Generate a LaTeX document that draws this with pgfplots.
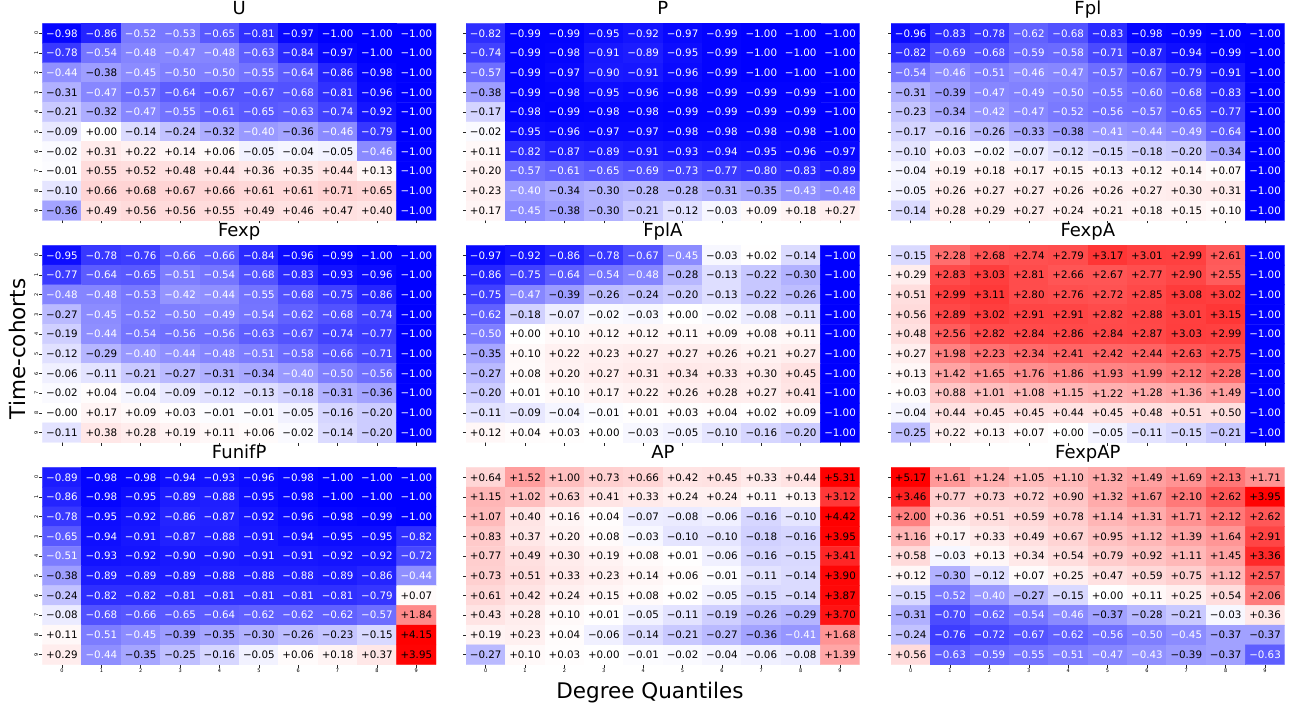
\documentclass[border=0pt]{standalone}
\usepackage{pgfplots}
\pgfplotsset{compat=1.18}
\usepackage{pgfplotstable}
\usepackage{fontspec}
\setmainfont{DejaVu Sans}

\pgfplotsset{colormap={bwr}{rgb255(0cm)=(0,0,255) rgb255(1cm)=(255,255,255) rgb255(5cm)=(255,0,0)}}

\def\cellsign#1#2\relax{\if-#1\char"2212 #2\else+#1#2\fi}
\newcommand\cellnode{\edef\tmpv{\pgfplotspointmeta}\ifdim\tmpv pt<-0.395pt\color{white}\else\color{black}\fi\expandafter\cellsign\tmpv\relax}

\pgfplotsset{hm/.style={
  scale only axis, width=393.7pt, height=197pt, anchor=south west,
  xmin=-0.5,xmax=9.5,ymin=-0.5,ymax=9.5,
  colormap name=bwr, point meta min=-1, point meta max=4,
  axis line style={draw=none},
  xtick={0,...,9}, ytick={0,...,9}, xticklabels={}, yticklabels={},
  xtick pos=left, ytick pos=left, tick align=outside, major tick length=3pt,
  tick style={black!85, line width=0.6pt},
  title style={font=\fontsize{18}{21}\selectfont, at={(0.5,1)}, anchor=base, yshift=3pt, inner sep=0pt},
  xticklabel style={font=\fontsize{5}{6}\selectfont, inner sep=1pt},
  yticklabel style={font=\fontsize{5}{6}\selectfont, rotate=90, anchor=south, inner sep=1pt},
}}

\newcommand\panel[5]{%
\begin{axis}[hm, at={(#1pt,#2pt)}, title={#3}, #5]
\addplot[matrix plot*, mesh/cols=10, point meta=explicit] table[x=x, y=y, meta=v] {#4};
\addplot[draw=none, mark=none, point meta=explicit symbolic, nodes near coords={\cellnode}, every node near coord/.append style={anchor=center, inner sep=0pt, font=\fontsize{10.3}{12}\selectfont}] table[x=x, y=y, meta=v] {#4};
\end{axis}}

\pgfplotstableread[row sep=\\]{x y v\\
0 9 -0.98\\1 9 -0.86\\2 9 -0.52\\3 9 -0.53\\4 9 -0.65\\5 9 -0.81\\6 9 -0.97\\7 9 -1.00\\8 9 -1.00\\9 9 -1.00\\
0 8 -0.78\\1 8 -0.54\\2 8 -0.48\\3 8 -0.47\\4 8 -0.48\\5 8 -0.63\\6 8 -0.84\\7 8 -0.97\\8 8 -1.00\\9 8 -1.00\\
0 7 -0.44\\1 7 -0.38\\2 7 -0.45\\3 7 -0.50\\4 7 -0.50\\5 7 -0.55\\6 7 -0.64\\7 7 -0.86\\8 7 -0.98\\9 7 -1.00\\
0 6 -0.31\\1 6 -0.47\\2 6 -0.57\\3 6 -0.64\\4 6 -0.67\\5 6 -0.67\\6 6 -0.68\\7 6 -0.81\\8 6 -0.96\\9 6 -1.00\\
0 5 -0.21\\1 5 -0.32\\2 5 -0.47\\3 5 -0.55\\4 5 -0.61\\5 5 -0.65\\6 5 -0.63\\7 5 -0.74\\8 5 -0.92\\9 5 -1.00\\
0 4 -0.09\\1 4 0.00\\2 4 -0.14\\3 4 -0.24\\4 4 -0.32\\5 4 -0.40\\6 4 -0.36\\7 4 -0.46\\8 4 -0.79\\9 4 -1.00\\
0 3 -0.02\\1 3 0.31\\2 3 0.22\\3 3 0.14\\4 3 0.06\\5 3 -0.05\\6 3 -0.04\\7 3 -0.05\\8 3 -0.46\\9 3 -1.00\\
0 2 -0.01\\1 2 0.55\\2 2 0.52\\3 2 0.48\\4 2 0.44\\5 2 0.36\\6 2 0.35\\7 2 0.44\\8 2 0.13\\9 2 -1.00\\
0 1 -0.10\\1 1 0.66\\2 1 0.68\\3 1 0.67\\4 1 0.66\\5 1 0.61\\6 1 0.61\\7 1 0.71\\8 1 0.65\\9 1 -1.00\\
0 0 -0.36\\1 0 0.49\\2 0 0.56\\3 0 0.56\\4 0 0.55\\5 0 0.49\\6 0 0.46\\7 0 0.47\\8 0 0.40\\9 0 -1.00\\
}\tabU

\pgfplotstableread[row sep=\\]{x y v\\
0 9 -0.82\\1 9 -0.99\\2 9 -0.99\\3 9 -0.95\\4 9 -0.92\\5 9 -0.97\\6 9 -0.99\\7 9 -1.00\\8 9 -1.00\\9 9 -1.00\\
0 8 -0.74\\1 8 -0.99\\2 8 -0.98\\3 8 -0.91\\4 8 -0.89\\5 8 -0.95\\6 8 -0.99\\7 8 -1.00\\8 8 -1.00\\9 8 -1.00\\
0 7 -0.57\\1 7 -0.99\\2 7 -0.97\\3 7 -0.90\\4 7 -0.91\\5 7 -0.96\\6 7 -0.99\\7 7 -1.00\\8 7 -1.00\\9 7 -1.00\\
0 6 -0.38\\1 6 -0.99\\2 6 -0.98\\3 6 -0.95\\4 6 -0.96\\5 6 -0.98\\6 6 -0.99\\7 6 -0.99\\8 6 -0.99\\9 6 -1.00\\
0 5 -0.17\\1 5 -0.98\\2 5 -0.99\\3 5 -0.98\\4 5 -0.98\\5 5 -0.99\\6 5 -0.99\\7 5 -0.99\\8 5 -0.99\\9 5 -1.00\\
0 4 -0.02\\1 4 -0.95\\2 4 -0.96\\3 4 -0.97\\4 4 -0.97\\5 4 -0.98\\6 4 -0.98\\7 4 -0.98\\8 4 -0.98\\9 4 -1.00\\
0 3 0.11\\1 3 -0.82\\2 3 -0.87\\3 3 -0.89\\4 3 -0.91\\5 3 -0.93\\6 3 -0.94\\7 3 -0.95\\8 3 -0.96\\9 3 -0.97\\
0 2 0.20\\1 2 -0.57\\2 2 -0.61\\3 2 -0.65\\4 2 -0.69\\5 2 -0.73\\6 2 -0.77\\7 2 -0.80\\8 2 -0.83\\9 2 -0.89\\
0 1 0.23\\1 1 -0.40\\2 1 -0.34\\3 1 -0.30\\4 1 -0.28\\5 1 -0.28\\6 1 -0.31\\7 1 -0.35\\8 1 -0.43\\9 1 -0.48\\
0 0 0.17\\1 0 -0.45\\2 0 -0.38\\3 0 -0.30\\4 0 -0.21\\5 0 -0.12\\6 0 -0.03\\7 0 0.09\\8 0 0.18\\9 0 0.27\\
}\tabP

\pgfplotstableread[row sep=\\]{x y v\\
0 9 -0.96\\1 9 -0.83\\2 9 -0.78\\3 9 -0.62\\4 9 -0.68\\5 9 -0.83\\6 9 -0.98\\7 9 -0.99\\8 9 -1.00\\9 9 -1.00\\
0 8 -0.82\\1 8 -0.69\\2 8 -0.68\\3 8 -0.59\\4 8 -0.58\\5 8 -0.71\\6 8 -0.87\\7 8 -0.94\\8 8 -0.99\\9 8 -1.00\\
0 7 -0.54\\1 7 -0.46\\2 7 -0.51\\3 7 -0.46\\4 7 -0.47\\5 7 -0.57\\6 7 -0.67\\7 7 -0.79\\8 7 -0.91\\9 7 -1.00\\
0 6 -0.31\\1 6 -0.39\\2 6 -0.47\\3 6 -0.49\\4 6 -0.50\\5 6 -0.55\\6 6 -0.60\\7 6 -0.68\\8 6 -0.83\\9 6 -1.00\\
0 5 -0.23\\1 5 -0.34\\2 5 -0.42\\3 5 -0.47\\4 5 -0.52\\5 5 -0.56\\6 5 -0.57\\7 5 -0.65\\8 5 -0.77\\9 5 -1.00\\
0 4 -0.17\\1 4 -0.16\\2 4 -0.26\\3 4 -0.33\\4 4 -0.38\\5 4 -0.41\\6 4 -0.44\\7 4 -0.49\\8 4 -0.64\\9 4 -1.00\\
0 3 -0.10\\1 3 0.03\\2 3 -0.02\\3 3 -0.07\\4 3 -0.12\\5 3 -0.15\\6 3 -0.18\\7 3 -0.20\\8 3 -0.34\\9 3 -1.00\\
0 2 -0.04\\1 2 0.19\\2 2 0.18\\3 2 0.17\\4 2 0.15\\5 2 0.13\\6 2 0.12\\7 2 0.14\\8 2 0.07\\9 2 -1.00\\
0 1 -0.05\\1 1 0.26\\2 1 0.27\\3 1 0.27\\4 1 0.26\\5 1 0.26\\6 1 0.27\\7 1 0.30\\8 1 0.31\\9 1 -1.00\\
0 0 -0.14\\1 0 0.28\\2 0 0.29\\3 0 0.27\\4 0 0.24\\5 0 0.21\\6 0 0.18\\7 0 0.15\\8 0 0.10\\9 0 -1.00\\
}\tabFpl

\pgfplotstableread[row sep=\\]{x y v\\
0 9 -0.95\\1 9 -0.78\\2 9 -0.76\\3 9 -0.66\\4 9 -0.66\\5 9 -0.84\\6 9 -0.96\\7 9 -0.99\\8 9 -1.00\\9 9 -1.00\\
0 8 -0.77\\1 8 -0.64\\2 8 -0.65\\3 8 -0.51\\4 8 -0.54\\5 8 -0.68\\6 8 -0.83\\7 8 -0.93\\8 8 -0.96\\9 8 -1.00\\
0 7 -0.48\\1 7 -0.48\\2 7 -0.53\\3 7 -0.42\\4 7 -0.44\\5 7 -0.55\\6 7 -0.68\\7 7 -0.75\\8 7 -0.86\\9 7 -1.00\\
0 6 -0.27\\1 6 -0.45\\2 6 -0.52\\3 6 -0.50\\4 6 -0.49\\5 6 -0.54\\6 6 -0.62\\7 6 -0.68\\8 6 -0.74\\9 6 -1.00\\
0 5 -0.19\\1 5 -0.44\\2 5 -0.54\\3 5 -0.56\\4 5 -0.56\\5 5 -0.63\\6 5 -0.67\\7 5 -0.74\\8 5 -0.77\\9 5 -1.00\\
0 4 -0.12\\1 4 -0.29\\2 4 -0.40\\3 4 -0.44\\4 4 -0.48\\5 4 -0.51\\6 4 -0.58\\7 4 -0.66\\8 4 -0.71\\9 4 -1.00\\
0 3 -0.06\\1 3 -0.11\\2 3 -0.21\\3 3 -0.27\\4 3 -0.31\\5 3 -0.34\\6 3 -0.40\\7 3 -0.50\\8 3 -0.56\\9 3 -1.00\\
0 2 -0.02\\1 2 0.04\\2 2 -0.04\\3 2 -0.09\\4 2 -0.12\\5 2 -0.13\\6 2 -0.18\\7 2 -0.31\\8 2 -0.36\\9 2 -1.00\\
0 1 -0.00\\1 1 0.17\\2 1 0.09\\3 1 0.03\\4 1 -0.01\\5 1 -0.01\\6 1 -0.05\\7 1 -0.16\\8 1 -0.20\\9 1 -1.00\\
0 0 -0.11\\1 0 0.38\\2 0 0.28\\3 0 0.19\\4 0 0.11\\5 0 0.06\\6 0 -0.02\\7 0 -0.14\\8 0 -0.20\\9 0 -1.00\\
}\tabFexp

\pgfplotstableread[row sep=\\]{x y v\\
0 9 -0.97\\1 9 -0.92\\2 9 -0.86\\3 9 -0.78\\4 9 -0.67\\5 9 -0.45\\6 9 -0.03\\7 9 0.02\\8 9 -0.14\\9 9 -1.00\\
0 8 -0.86\\1 8 -0.75\\2 8 -0.64\\3 8 -0.54\\4 8 -0.48\\5 8 -0.28\\6 8 -0.13\\7 8 -0.22\\8 8 -0.30\\9 8 -1.00\\
0 7 -0.75\\1 7 -0.47\\2 7 -0.39\\3 7 -0.26\\4 7 -0.24\\5 7 -0.20\\6 7 -0.13\\7 7 -0.22\\8 7 -0.26\\9 7 -1.00\\
0 6 -0.62\\1 6 -0.18\\2 6 -0.07\\3 6 -0.02\\4 6 -0.03\\5 6 0.00\\6 6 -0.02\\7 6 -0.08\\8 6 -0.11\\9 6 -1.00\\
0 5 -0.50\\1 5 0.00\\2 5 0.10\\3 5 0.12\\4 5 0.12\\5 5 0.11\\6 5 0.09\\7 5 0.08\\8 5 0.11\\9 5 -1.00\\
0 4 -0.35\\1 4 0.10\\2 4 0.22\\3 4 0.23\\4 4 0.27\\5 4 0.27\\6 4 0.26\\7 4 0.21\\8 4 0.27\\9 4 -1.00\\
0 3 -0.27\\1 3 0.08\\2 3 0.20\\3 3 0.27\\4 3 0.31\\5 3 0.34\\6 3 0.33\\7 3 0.30\\8 3 0.45\\9 3 -1.00\\
0 2 -0.20\\1 2 0.01\\2 2 0.10\\3 2 0.17\\4 2 0.22\\5 2 0.26\\6 2 0.28\\7 2 0.27\\8 2 0.41\\9 2 -1.00\\
0 1 -0.11\\1 1 -0.09\\2 1 -0.04\\3 1 -0.01\\4 1 0.01\\5 1 0.03\\6 1 0.04\\7 1 0.02\\8 1 0.09\\9 1 -1.00\\
0 0 0.12\\1 0 0.04\\2 0 0.03\\3 0 0.00\\4 0 -0.03\\5 0 -0.05\\6 0 -0.10\\7 0 -0.16\\8 0 -0.20\\9 0 -1.00\\
}\tabFplA

\pgfplotstableread[row sep=\\]{x y v\\
0 9 -0.15\\1 9 2.28\\2 9 2.68\\3 9 2.74\\4 9 2.79\\5 9 3.17\\6 9 3.01\\7 9 2.99\\8 9 2.61\\9 9 -1.00\\
0 8 0.29\\1 8 2.83\\2 8 3.03\\3 8 2.81\\4 8 2.66\\5 8 2.67\\6 8 2.77\\7 8 2.90\\8 8 2.55\\9 8 -1.00\\
0 7 0.51\\1 7 2.99\\2 7 3.11\\3 7 2.80\\4 7 2.76\\5 7 2.72\\6 7 2.85\\7 7 3.08\\8 7 3.02\\9 7 -1.00\\
0 6 0.56\\1 6 2.89\\2 6 3.02\\3 6 2.91\\4 6 2.91\\5 6 2.82\\6 6 2.88\\7 6 3.01\\8 6 3.15\\9 6 -1.00\\
0 5 0.48\\1 5 2.56\\2 5 2.82\\3 5 2.84\\4 5 2.86\\5 5 2.84\\6 5 2.87\\7 5 3.03\\8 5 2.99\\9 5 -1.00\\
0 4 0.27\\1 4 1.98\\2 4 2.23\\3 4 2.34\\4 4 2.41\\5 4 2.42\\6 4 2.44\\7 4 2.63\\8 4 2.75\\9 4 -1.00\\
0 3 0.13\\1 3 1.42\\2 3 1.65\\3 3 1.76\\4 3 1.86\\5 3 1.93\\6 3 1.99\\7 3 2.12\\8 3 2.28\\9 3 -1.00\\
0 2 0.03\\1 2 0.88\\2 2 1.01\\3 2 1.08\\4 2 1.15\\5 2 1.22\\6 2 1.28\\7 2 1.36\\8 2 1.49\\9 2 -1.00\\
0 1 -0.04\\1 1 0.44\\2 1 0.45\\3 1 0.45\\4 1 0.44\\5 1 0.45\\6 1 0.48\\7 1 0.51\\8 1 0.50\\9 1 -1.00\\
0 0 -0.25\\1 0 0.22\\2 0 0.13\\3 0 0.07\\4 0 0.00\\5 0 -0.05\\6 0 -0.11\\7 0 -0.15\\8 0 -0.21\\9 0 -1.00\\
}\tabFexpA

\pgfplotstableread[row sep=\\]{x y v\\
0 9 -0.89\\1 9 -0.98\\2 9 -0.98\\3 9 -0.94\\4 9 -0.93\\5 9 -0.96\\6 9 -0.98\\7 9 -1.00\\8 9 -1.00\\9 9 -1.00\\
0 8 -0.86\\1 8 -0.98\\2 8 -0.95\\3 8 -0.89\\4 8 -0.88\\5 8 -0.95\\6 8 -0.98\\7 8 -1.00\\8 8 -1.00\\9 8 -1.00\\
0 7 -0.78\\1 7 -0.95\\2 7 -0.92\\3 7 -0.86\\4 7 -0.87\\5 7 -0.92\\6 7 -0.96\\7 7 -0.98\\8 7 -0.99\\9 7 -1.00\\
0 6 -0.65\\1 6 -0.94\\2 6 -0.91\\3 6 -0.87\\4 6 -0.88\\5 6 -0.91\\6 6 -0.94\\7 6 -0.95\\8 6 -0.95\\9 6 -0.82\\
0 5 -0.51\\1 5 -0.93\\2 5 -0.92\\3 5 -0.90\\4 5 -0.90\\5 5 -0.91\\6 5 -0.91\\7 5 -0.92\\8 5 -0.92\\9 5 -0.72\\
0 4 -0.38\\1 4 -0.89\\2 4 -0.89\\3 4 -0.89\\4 4 -0.88\\5 4 -0.88\\6 4 -0.88\\7 4 -0.89\\8 4 -0.86\\9 4 -0.44\\
0 3 -0.24\\1 3 -0.82\\2 3 -0.82\\3 3 -0.81\\4 3 -0.81\\5 3 -0.81\\6 3 -0.81\\7 3 -0.81\\8 3 -0.79\\9 3 0.07\\
0 2 -0.08\\1 2 -0.68\\2 2 -0.66\\3 2 -0.65\\4 2 -0.64\\5 2 -0.62\\6 2 -0.62\\7 2 -0.62\\8 2 -0.57\\9 2 1.84\\
0 1 0.11\\1 1 -0.51\\2 1 -0.45\\3 1 -0.39\\4 1 -0.35\\5 1 -0.30\\6 1 -0.26\\7 1 -0.23\\8 1 -0.15\\9 1 4.15\\
0 0 0.29\\1 0 -0.44\\2 0 -0.35\\3 0 -0.25\\4 0 -0.16\\5 0 -0.05\\6 0 0.06\\7 0 0.18\\8 0 0.37\\9 0 3.95\\
}\tabFunifP

\pgfplotstableread[row sep=\\]{x y v\\
0 9 0.64\\1 9 1.52\\2 9 1.00\\3 9 0.73\\4 9 0.66\\5 9 0.42\\6 9 0.45\\7 9 0.33\\8 9 0.44\\9 9 5.31\\
0 8 1.15\\1 8 1.02\\2 8 0.63\\3 8 0.41\\4 8 0.33\\5 8 0.24\\6 8 0.24\\7 8 0.11\\8 8 0.13\\9 8 3.12\\
0 7 1.07\\1 7 0.40\\2 7 0.16\\3 7 0.04\\4 7 -0.07\\5 7 -0.08\\6 7 -0.06\\7 7 -0.16\\8 7 -0.10\\9 7 4.42\\
0 6 0.83\\1 6 0.37\\2 6 0.20\\3 6 0.08\\4 6 -0.03\\5 6 -0.10\\6 6 -0.10\\7 6 -0.18\\8 6 -0.16\\9 6 3.95\\
0 5 0.77\\1 5 0.49\\2 5 0.30\\3 5 0.19\\4 5 0.08\\5 5 0.01\\6 5 -0.06\\7 5 -0.16\\8 5 -0.15\\9 5 3.41\\
0 4 0.73\\1 4 0.51\\2 4 0.33\\3 4 0.23\\4 4 0.14\\5 4 0.06\\6 4 -0.01\\7 4 -0.11\\8 4 -0.14\\9 4 3.90\\
0 3 0.61\\1 3 0.42\\2 3 0.24\\3 3 0.15\\4 3 0.08\\5 3 0.02\\6 3 -0.05\\7 3 -0.15\\8 3 -0.14\\9 3 3.87\\
0 2 0.43\\1 2 0.28\\2 2 0.10\\3 2 0.01\\4 2 -0.05\\5 2 -0.11\\6 2 -0.19\\7 2 -0.26\\8 2 -0.29\\9 2 3.70\\
0 1 0.19\\1 1 0.23\\2 1 0.04\\3 1 -0.06\\4 1 -0.14\\5 1 -0.21\\6 1 -0.27\\7 1 -0.36\\8 1 -0.41\\9 1 1.68\\
0 0 -0.27\\1 0 0.10\\2 0 0.03\\3 0 0.00\\4 0 -0.01\\5 0 -0.02\\6 0 -0.04\\7 0 -0.06\\8 0 -0.08\\9 0 1.39\\
}\tabAP

\pgfplotstableread[row sep=\\]{x y v\\
0 9 5.17\\1 9 1.61\\2 9 1.24\\3 9 1.05\\4 9 1.10\\5 9 1.32\\6 9 1.49\\7 9 1.69\\8 9 2.13\\9 9 1.71\\
0 8 3.46\\1 8 0.77\\2 8 0.73\\3 8 0.72\\4 8 0.90\\5 8 1.32\\6 8 1.67\\7 8 2.10\\8 8 2.62\\9 8 3.95\\
0 7 2.00\\1 7 0.36\\2 7 0.51\\3 7 0.59\\4 7 0.78\\5 7 1.14\\6 7 1.31\\7 7 1.71\\8 7 2.12\\9 7 2.62\\
0 6 1.16\\1 6 0.17\\2 6 0.33\\3 6 0.49\\4 6 0.67\\5 6 0.95\\6 6 1.12\\7 6 1.39\\8 6 1.64\\9 6 2.91\\
0 5 0.58\\1 5 -0.03\\2 5 0.13\\3 5 0.34\\4 5 0.54\\5 5 0.79\\6 5 0.92\\7 5 1.11\\8 5 1.45\\9 5 3.36\\
0 4 0.12\\1 4 -0.30\\2 4 -0.12\\3 4 0.07\\4 4 0.25\\5 4 0.47\\6 4 0.59\\7 4 0.75\\8 4 1.12\\9 4 2.57\\
0 3 -0.15\\1 3 -0.52\\2 3 -0.40\\3 3 -0.27\\4 3 -0.15\\5 3 0.00\\6 3 0.11\\7 3 0.25\\8 3 0.54\\9 3 2.06\\
0 2 -0.31\\1 2 -0.70\\2 2 -0.62\\3 2 -0.54\\4 2 -0.46\\5 2 -0.37\\6 2 -0.28\\7 2 -0.21\\8 2 -0.03\\9 2 0.36\\
0 1 -0.24\\1 1 -0.76\\2 1 -0.72\\3 1 -0.67\\4 1 -0.62\\5 1 -0.56\\6 1 -0.50\\7 1 -0.45\\8 1 -0.37\\9 1 -0.37\\
0 0 0.56\\1 0 -0.63\\2 0 -0.59\\3 0 -0.55\\4 0 -0.51\\5 0 -0.47\\6 0 -0.43\\7 0 -0.39\\8 0 -0.37\\9 0 -0.63\\
}\tabFexpAP

\begin{document}
\begin{tikzpicture}
\path[use as bounding box] (0pt,0pt) rectangle (1301pt,710pt);
\panel{42.3}{489.5}{U}{\tabU}{yticklabels={9,8,7,6,5,4,3,2,1,0}}
\panel{466}{489.5}{P}{\tabP}{}
\panel{891}{489.5}{Fpl}{\tabFpl}{}
\panel{42.3}{267.5}{Fexp}{\tabFexp}{yticklabels={9,8,7,6,5,4,3,2,1,0}}
\panel{466}{267.5}{FplA}{\tabFplA}{}
\panel{891}{267.5}{FexpA}{\tabFexpA}{}
\panel{42.3}{45.5}{FunifP}{\tabFunifP}{yticklabels={9,8,7,6,5,4,3,2,1,0}, xticklabels={0,1,2,3,4,5,6,7,8,9}}
\panel{466}{45.5}{AP}{\tabAP}{xticklabels={0,1,2,3,4,5,6,7,8,9}}
\panel{891}{45.5}{FexpAP}{\tabFexpAP}{xticklabels={0,1,2,3,4,5,6,7,8,9}}
\node[rotate=90, inner sep=0pt, font=\fontsize{21.5}{25}\selectfont] at (17pt,361pt) {Time-cohorts};
\node[anchor=base, inner sep=0pt, font=\fontsize{21.5}{25}\selectfont] at (650pt,12pt) {Degree Quantiles};
\end{tikzpicture}
\end{document}
